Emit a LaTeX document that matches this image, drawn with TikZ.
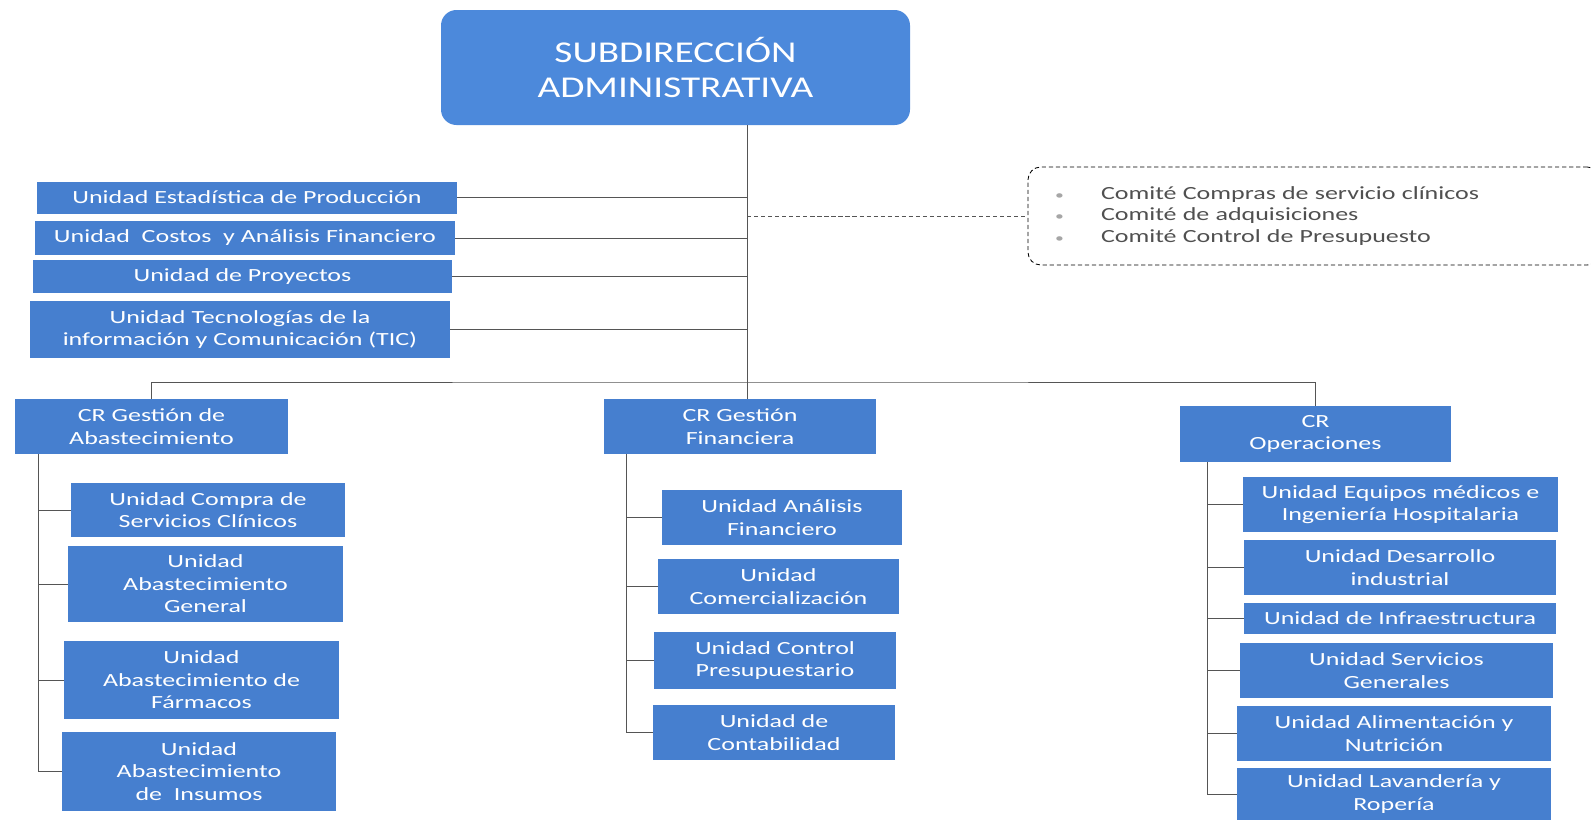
\documentclass[tikz,border=0pt]{standalone}
\usepackage{fontspec}
\usepackage{xcolor}
\usepackage{tikz}
\setmainfont{Carlito}
\newfontfamily\boxfont[FakeStretch=1.4]{Carlito}
\newfontfamily\titlefont[FakeStretch=1.3]{Carlito}
\definecolor{boxblue}{RGB}{70,127,207}
\definecolor{titleblue}{RGB}{76,137,219}
\definecolor{linegray}{RGB}{85,85,85}
\definecolor{textgray}{RGB}{80,80,80}
\newlength\pxu
\setlength\pxu{0.025cm}

\begin{document}
\begin{tikzpicture}[x=0.025cm,y=-0.025cm,semithick]
	\tikzstyle{unit}=[fill=boxblue, text=white, inner sep=0pt, align=center, font=\boxfont\fontsize{13.2}{16}\selectfont]
	\tikzstyle{head}=[fill=titleblue, text=white, rounded corners=11pt, inner sep=0pt, align=center, font=\titlefont\fontsize{21.5}{25}\selectfont]
	\tikzstyle{comite}=[draw=black, dashed, dash pattern=on 3pt off 2pt, rounded corners=9pt, text=textgray, align=left, inner xsep=27*\pxu, inner ysep=0pt, text width=518*\pxu, minimum height=98*\pxu, font=\boxfont\fontsize{13.2}{15.6}\selectfont]
	\tikzstyle{link}=[draw=linegray]
	\tikzset{wh/.style 2 args={minimum width=#1*\pxu, minimum height=#2*\pxu}}
	\useasboundingbox (0,0) rectangle (1591,822);

	% cabeza
	\node[head, wh={469}{115}] (sub) at (675.5,67.5) {SUBDIRECCIÓN\\ADMINISTRATIVA};

	% unidades de staff
	\node[unit, wh={420}{32}] (estad) at (247,197.5) {Unidad Estadística de Producción};
	\node[unit, wh={420}{34}] (costos) at (245,238) {Unidad\ \ Costos\ \ y Análisis Financiero};
	\node[unit, wh={419}{33}] (proy) at (242.5,276.5) {Unidad de Proyectos};
	\node[unit, wh={420}{57}] (tic) at (240,329.5) {Unidad Tecnologías de la\\información y Comunicación (TIC)};

	% comites
	\node[comite] (comite) at (1314,216) {%
		\makebox[46\pxu][l]{\color{gray!70}\small\textbullet}Comité Compras de servicio clínicos\\
		\makebox[46\pxu][l]{\color{gray!70}\small\textbullet}Comité de adquisiciones\\
		\makebox[46\pxu][l]{\color{gray!70}\small\textbullet}Comité Control de Presupuesto};

	% centros de responsabilidad
	\node[unit, wh={273}{55}] (cra) at (151.5,426.5) {CR Gestión de\\Abastecimiento};
	\node[unit, wh={272}{55}] (crf) at (740,426.5) {CR Gestión\\Financiera};
	\node[unit, wh={271}{56}] (cro) at (1315.5,434) {CR\\Operaciones};

	% abastecimiento
	\node[unit, wh={274}{54}] (compra) at (208,510) {Unidad Compra de\\Servicios Clínicos};
	\node[unit, wh={275}{76}] (general) at (205.5,584) {Unidad\\Abastecimiento\\General};
	\node[unit, wh={275}{78}] (farm) at (201.5,680) {Unidad\\Abastecimiento de\\Fármacos};
	\node[unit, wh={274}{79}] (insum) at (199,771.5) {Unidad\\Abastecimiento\\de\ \ Insumos};

	% financiera
	\node[unit, wh={240}{55}] (anal) at (782,517.5) {Unidad Análisis\\Financiero};
	\node[unit, wh={241}{55}] (comer) at (778.5,586.5) {Unidad\\Comercialización};
	\node[unit, wh={242}{57}] (control) at (775,660.5) {Unidad Control\\Presupuestario};
	\node[unit, wh={242}{55}] (conta) at (774,732.5) {Unidad de\\Contabilidad};

	% operaciones
	\node[unit, wh={315}{55}] (equip) at (1400.5,504.5) {Unidad Equipos médicos e\\Ingeniería Hospitalaria};
	\node[unit, wh={312}{55}] (desar) at (1400,567.5) {Unidad Desarrollo\\industrial};
	\node[unit, wh={312}{31}] (infra) at (1400,618.5) {Unidad de Infraestructura};
	\node[unit, wh={313}{55}] (serv) at (1396.5,670.5) {Unidad Servicios\\Generales};
	\node[unit, wh={314}{55}] (alim) at (1394,733.5) {Unidad Alimentación y\\Nutrición};
	\node[unit, wh={314}{52}] (lav) at (1394,794) {Unidad Lavandería y\\Ropería};

	% conexiones
	\coordinate (trunk) at (747,382);
	\coordinate (sa) at (38,0);
	\coordinate (sf) at (626,0);
	\coordinate (so) at (1207,0);
	\draw[link] (sub.south -| trunk) -- (trunk);
	\foreach \n in {estad,costos,proy,tic}
		\draw[link] (\n.east) -- (\n.east -| trunk);
	\draw[link, dashed, dash pattern=on 3pt off 2pt] (trunk |- comite.west) -- (comite.west);
	\draw[link] (cra.north) |- (trunk) -| (cro.north);
	\draw[link] (trunk) -- (trunk |- crf.north);
	\draw[link] (sa |- cra.south) |- (insum.west);
	\foreach \n in {compra,general,farm}
		\draw[link] (sa |- \n.west) -- (\n.west);
	\draw[link] (sf |- crf.south) |- (conta.west);
	\foreach \n in {anal,comer,control}
		\draw[link] (sf |- \n.west) -- (\n.west);
	\draw[link] (so |- cro.south) |- (lav.west);
	\foreach \n in {equip,desar,infra,serv,alim}
		\draw[link] (so |- \n.west) -- (\n.west);
\end{tikzpicture}
\end{document}
